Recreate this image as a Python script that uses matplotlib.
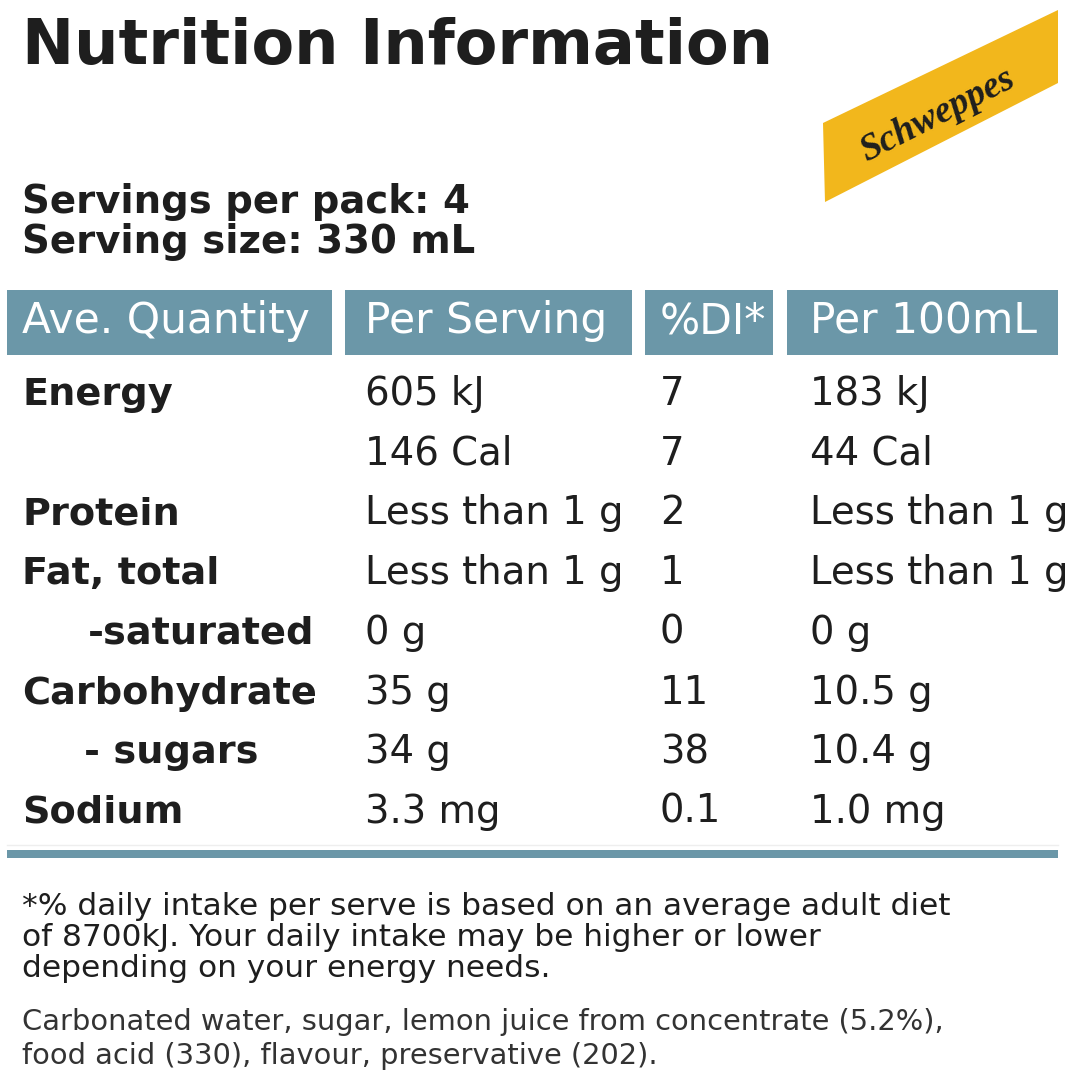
import matplotlib

matplotlib.use("Agg")
import matplotlib.pyplot as plt
from matplotlib.patches import Polygon, Rectangle

INK, BAR, GOLD = "#1e1e1e", "#6b97a8", "#f2b71c"

title = "Nutrition Information"
servings = ["Servings per pack: 4", "Serving size: 330 mL"]
headers = ["Ave. Quantity", "Per Serving", "%DI*", "Per 100mL"]
nutrients = ["Energy", "", "Protein", "Fat, total", "-saturated", "Carbohydrate",
             "- sugars", "Sodium"]
per_serving = ["605 kJ", "146 Cal", "Less than 1 g", "Less than 1 g", "0 g", "35 g",
               "34 g", "3.3 mg"]
pct_di = ["7", "7", "2", "1", "0", "11", "38", "0.1"]
per_100ml = ["183 kJ", "44 Cal", "Less than 1 g", "Less than 1 g", "0 g", "10.5 g",
             "10.4 g", "1.0 mg"]
footnote = ["*% daily intake per serve is based on an average adult diet",
            "of 8700kJ. Your daily intake may be higher or lower",
            "depending on your energy needs."]
ingredients = ["Carbonated water, sugar, lemon juice from concentrate (5.2%),",
               "food acid (330), flavour, preservative (202)."]

fig = plt.figure(figsize=(10.8, 10.8), dpi=100)
ax = fig.add_axes([0, 0, 1, 1])
ax.set_xlim(0, 1080)
ax.set_ylim(1080, 0)
ax.axis("off")

ax.text(22, 64, title, fontsize=44.8, fontweight="bold", color=INK, va="baseline")
for i, s in enumerate(servings):
    ax.text(22, 213 + 40 * i, s, fontsize=27.8, fontweight="bold", color=INK,
            va="baseline")

# logo
ax.add_patch(Polygon([(823, 123), (1058, 10), (1058, 83), (825, 202)], closed=True,
                     color=GOLD, lw=0))
ax.text(938, 115, "Schweppes", fontsize=27, family="Liberation Serif", style="italic",
        fontweight="bold", color=INK, rotation=27, ha="center", va="center",
        rotation_mode="anchor")

# header bars
cols = [(7, 332), (345, 632), (645, 773), (787, 1058)]
text_x = [22, 365, 660, 810]
for (x0, x1), tx, h in zip(cols, text_x, headers):
    ax.add_patch(Rectangle((x0, 290), x1 - x0, 65, color=BAR, lw=0))
    ax.text(tx, 333, h, fontsize=30.5, color="white", va="baseline")

# rows
for i, (lab, ps, di, p100) in enumerate(zip(nutrients, per_serving, pct_di, per_100ml)):
    y = 405 + 59.7 * i
    x = 22
    if lab.startswith("-"):
        x = 88 if lab == "-saturated" else 84
    ax.text(x, y, lab, fontsize=27.5, fontweight="bold", color=INK, va="baseline")
    ax.text(365, y, ps, fontsize=27.8, color=INK, va="baseline")
    ax.text(660, y, di, fontsize=27.8, color=INK, va="baseline")
    ax.text(810, y, p100, fontsize=27.8, color=INK, va="baseline")

ax.axhline(845, xmin=7 / 1080, xmax=1058 / 1080, color="#eeeeee", lw=1)
ax.add_patch(Rectangle((7, 850), 1051, 8, color=BAR, lw=0))

for i, s in enumerate(footnote):
    ax.text(22, 915 + 31 * i, s, fontsize=22.5, color=INK, va="baseline")
for i, s in enumerate(ingredients):
    ax.text(22, 1030 + 34 * i, s, fontsize=20.8, color="#333333", va="baseline")

fig.savefig("out.png", dpi=100, facecolor="white")
